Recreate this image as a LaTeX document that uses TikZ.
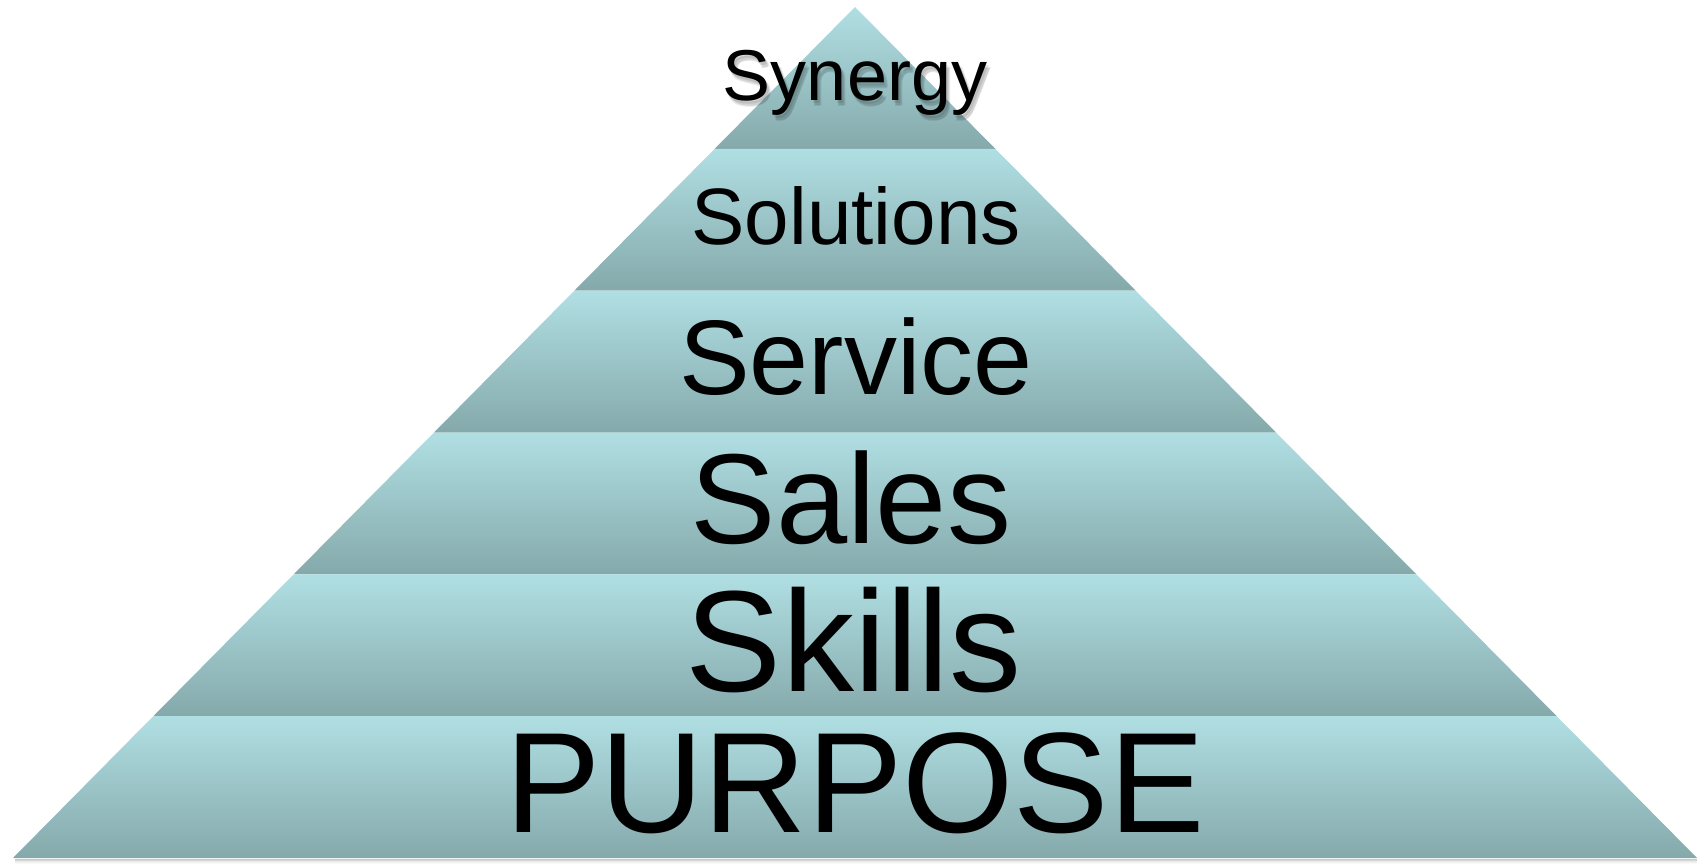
\documentclass[tikz,border=0pt]{standalone}
\usepackage{fontspec}
\setmainfont{Liberation Sans}
\usetikzlibrary{calc}
\definecolor{bandlight}{RGB}{176,223,227}
\definecolor{banddark}{RGB}{133,169,171}
\tikzset{
  band/.style={top color=bandlight, bottom color=banddark, draw=none},
  label/.style={anchor=base, inner sep=0pt, text=black},
  shadowtxt/.style={anchor=base, inner sep=0pt, text=black, opacity=0.09}
}
\begin{document}
\begin{tikzpicture}[x=1pt,y=-1pt]
\useasboundingbox (0,0) rectangle (1708,865);
\fill[white] (0,0) rectangle (1708,865);
\coordinate (apex) at (855,7);
\coordinate (bl) at (13,858);
\coordinate (br) at (1697,858);
% bottom shadow
\foreach \d/\o in {1/0.35,2/0.25,3/0.15,4/0.08,5/0.04}{
  \draw[black!60, line width=1pt, opacity=\o] ($(bl)+(2,\d)$) -- ($(br)+(0,\d)$);
}
% bands
\shade[band] (apex) -- ($(apex)!1/6!(br)$) -- ($(apex)!1/6!(bl)$) -- cycle;
\foreach \k [evaluate=\k as \kk using \k+1] in {1,2,3,4,5}{
  \shade[band] ($(apex)!\k/6!(bl)$) -- ($(apex)!\k/6!(br)$) -- ($(apex)!\kk/6!(br)$) -- ($(apex)!\kk/6!(bl)$) -- cycle;
}
% Synergy soft shadow
\foreach \dx/\dy in {2/3,4/5,3/6}{
  \node[shadowtxt, font=\fontsize{72}{80}\selectfont] at (855+\dx,100+\dy) {Synergy};
}
\node[label, font=\fontsize{72}{80}\selectfont] (synergy) at (855,100) {Synergy};
\node[label, font=\fontsize{80}{90}\selectfont] (solutions) at (856,244) {Solutions};
\node[label, font=\fontsize{106}{120}\selectfont] (service) at (856,394) {Service};
\node[label, font=\fontsize{128}{140}\selectfont] (sales) at (851,543) {Sales};
\node[label, font=\fontsize{144}{160}\selectfont] (skills) at (854,691) {Skills};
\node[label, font=\fontsize{143}{160}\selectfont] (purpose) at (855,832) {PURPOSE};
\end{tikzpicture}
\end{document}
